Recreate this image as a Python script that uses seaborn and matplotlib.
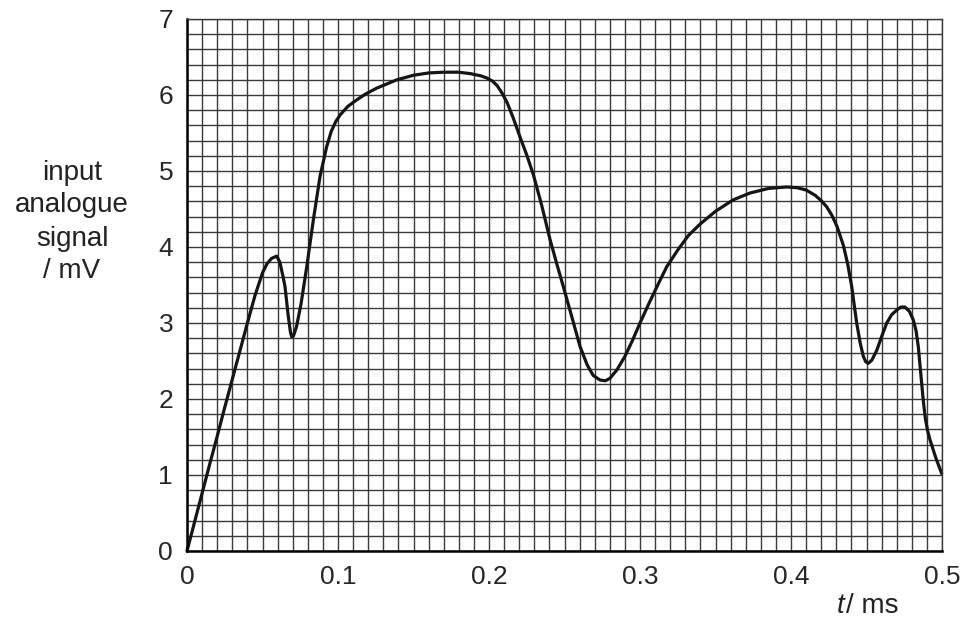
import numpy as np
import pandas as pd
import matplotlib
matplotlib.use("Agg")
import matplotlib.pyplot as plt
import seaborn as sns

# ---- data ----
t_ms = [0.000, 0.005, 0.010, 0.015, 0.020, 0.025, 0.030, 0.035, 0.040, 0.045,
        0.050, 0.053, 0.056, 0.0594, 0.0615, 0.0635, 0.0649, 0.067, 0.0685, 0.0693,
        0.0705, 0.0725, 0.0755, 0.0793, 0.0837, 0.0881, 0.0925, 0.0955, 0.0985, 0.1015,
        0.1065, 0.112, 0.118, 0.1256, 0.139, 0.150, 0.160, 0.170, 0.180, 0.188,
        0.195, 0.199, 0.2025, 0.2055, 0.2085, 0.212, 0.216, 0.2205, 0.225, 0.2294,
        0.235, 0.2404, 0.245, 0.2492, 0.255, 0.2603, 0.265, 0.269, 0.2735, 0.277,
        0.280, 0.2846, 0.290, 0.295, 0.300, 0.306, 0.312, 0.3177, 0.325, 0.332,
        0.3397, 0.350, 0.3617, 0.3728, 0.385, 0.397, 0.404, 0.410, 0.416, 0.420,
        0.4236, 0.427, 0.4305, 0.4347, 0.4375, 0.4402, 0.4435, 0.4458, 0.4479, 0.4495,
        0.4512, 0.4535, 0.4568, 0.460, 0.4634, 0.4667, 0.4700, 0.4728, 0.4755, 0.4785,
        0.481, 0.4828, 0.4843, 0.486, 0.4876, 0.489, 0.4905, 0.4921, 0.496, 0.4998]
signal_mV = [0.00, 0.38, 0.76, 1.14, 1.51, 1.89, 2.26, 2.63, 3.00, 3.36,
             3.66, 3.78, 3.85, 3.88, 3.80, 3.62, 3.48, 3.10, 2.88, 2.82,
             2.83, 2.95, 3.25, 3.74, 4.36, 4.93, 5.32, 5.52, 5.65, 5.74,
             5.85, 5.93, 6.01, 6.09, 6.20, 6.26, 6.29, 6.30, 6.30, 6.28,
             6.25, 6.22, 6.18, 6.12, 6.03, 5.90, 5.70, 5.45, 5.21, 4.95,
             4.54, 4.10, 3.77, 3.48, 3.07, 2.69, 2.45, 2.31, 2.25, 2.24,
             2.27, 2.38, 2.56, 2.77, 3.00, 3.26, 3.51, 3.74, 3.96, 4.15,
             4.30, 4.47, 4.62, 4.71, 4.77, 4.79, 4.78, 4.75, 4.68, 4.61,
             4.53, 4.42, 4.27, 4.02, 3.78, 3.48, 3.00, 2.74, 2.56, 2.49,
             2.47, 2.51, 2.64, 2.82, 3.00, 3.11, 3.17, 3.21, 3.21, 3.15,
             3.04, 2.90, 2.69, 2.32, 1.98, 1.74, 1.58, 1.46, 1.22, 1.02]

x_tick_labels = ["0", "0.1", "0.2", "0.3", "0.4", "0.5"]
y_tick_labels = ["0", "1", "2", "3", "4", "5", "6", "7"]
y_label = "input\nanalogue\nsignal\n/ mV"

df = pd.DataFrame({"t": t_ms, "v": signal_mV})

sns.set_style("white")
plt.rcParams["font.family"] = ["Liberation Sans", "DejaVu Sans"]

fig = plt.figure(figsize=(9.66, 6.19), dpi=100)
ax = fig.add_axes([187 / 966, 1 - 551 / 619, (942 - 187) / 966, (551 - 19) / 619])

grid_col = "#3a3a3a"
ax.set_xlim(0, 0.5)
ax.set_ylim(0, 7)
ax.set_xticks(np.linspace(0, 0.5, 6))
ax.set_xticklabels(x_tick_labels)
ax.set_yticks(np.arange(0, 8))
ax.set_yticklabels(y_tick_labels)
ax.set_xticks(np.linspace(0, 0.5, 51), minor=True)
ax.set_yticks(np.linspace(0, 7, 36), minor=True)
ax.grid(True, which="both", color=grid_col, lw=1.0)
ax.set_axisbelow(True)
ax.tick_params(axis="both", which="minor", length=0)
ax.tick_params(axis="both", which="major", length=8, width=1.6, color="black",
               labelsize=19, pad=2, direction="out")

sns.lineplot(data=df, x="t", y="v", ax=ax, color="#151515", lw=2.3,
             sort=False, estimator=None)
line = ax.lines[-1]
line.set_clip_on(False)
line.set_solid_joinstyle("round")
line.set_solid_capstyle("round")
ax.set_xlabel("")
ax.set_ylabel("")

for s in ["left", "bottom"]:
    ax.spines[s].set_color("black")
    ax.spines[s].set_linewidth(1.8)
for s in ["top", "right"]:
    ax.spines[s].set_color(grid_col)
    ax.spines[s].set_linewidth(1.0)

fig.text(72 / 966, 1 - 222 / 619, y_label, ha="center", va="center",
         fontsize=20, linespacing=1.35, color="#222222")
fig.text(844 / 966, 1 - 606 / 619, "t", ha="right", va="center", fontsize=20,
         fontstyle="italic", color="#222222")
fig.text(846 / 966, 1 - 606 / 619, "/ ms", ha="left", va="center", fontsize=20,
         color="#222222")

fig.savefig("out.png", dpi=100)
